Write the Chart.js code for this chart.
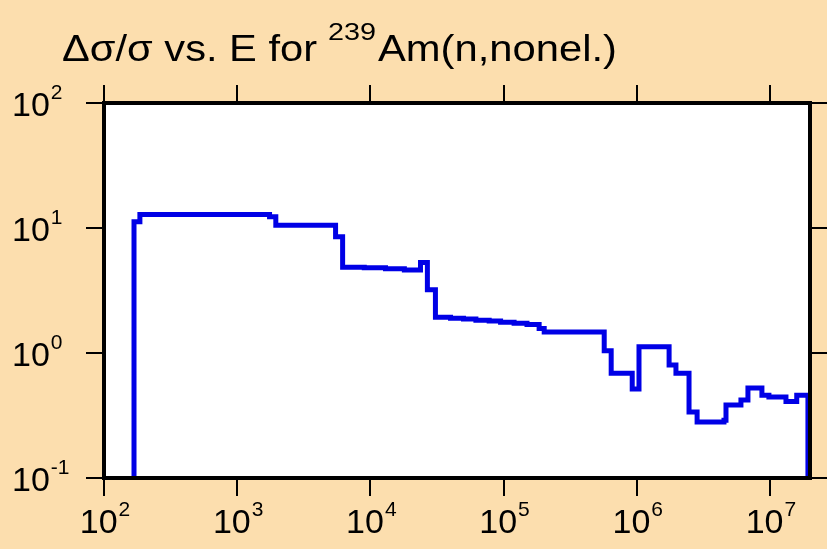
<!DOCTYPE html>
<html>
<head>
<meta charset="utf-8">
<script src="https://cdn.jsdelivr.net/npm/chart.js@4"></script>
<style>
  html, body { margin: 0; padding: 0; background: #fcdeae; }
  #wrap { width: 827px; height: 549px; }
</style>
</head>
<body>
<div id="wrap"><canvas id="uncChart" width="827" height="549"></canvas></div>
<script>
// bin edges in eV and relative uncertainty (%) per bin
const energyEdges = [168, 186, 1750, 1950, 5480, 6190, 9000, 13000, 18000, 23800, 26800,
  30800, 40000, 50000, 62000, 78000, 95000, 120000, 150000, 185000, 202000, 570000, 643000,
  925000, 1.04e6, 1.75e6, 1.97e6, 2.47e6, 2.84e6, 4.52e6, 4.68e6, 6.06e6, 6.84e6, 8.71e6,
  9.83e6, 1.32e7, 1.59e7, 1.93e7];
const relUncert = [11.2, 12.8, 12.3, 10.5, 8.5, 4.85, 4.8, 4.72, 4.62, 5.3, 3.2,
  1.93, 1.90, 1.87, 1.83, 1.80, 1.76, 1.73, 1.69, 1.57, 1.47, 1.04, 0.69,
  0.515, 1.12, 0.80, 0.69, 0.337, 0.28, 0.29, 0.384, 0.42, 0.525,
  0.46, 0.445, 0.41, 0.46];

const xTickValues = [1e2, 1e3, 1e4, 1e5, 1e6, 1e7];
const xTickExps = ['2', '3', '4', '5', '6', '7'];
const yTickValues = [0.1, 1, 10, 100];
const yTickExps = ['-1', '0', '1', '2'];

const xMin = 100, xMax = 2e7, yMin = 0.1, yMax = 100;

// step points (stepped 'before' => each point holds its value until the next one)
const pts = [{ x: energyEdges[0], y: yMin }];
for (let i = 0; i < relUncert.length; i++) {
  pts.push({ x: energyEdges[i], y: relUncert[i] });
}
const lastE = energyEdges[energyEdges.length - 1];
pts.push({ x: lastE, y: relUncert[relUncert.length - 1] });
pts.push({ x: lastE, y: yMin });

const FONT = "'Liberation Sans', Arial, Helvetica, sans-serif";

// "10" with a raised exponent; x is the left edge (align left) or the centre
function powLabel(ctx, exp, x, y, align) {
  ctx.font = '34px ' + FONT;
  const wb = ctx.measureText('10').width;
  ctx.font = '21px ' + FONT;
  const we = ctx.measureText(exp).width;
  let x0 = x;
  if (align === 'center') x0 = x - (wb + we + 1) / 2;
  ctx.textAlign = 'left';
  ctx.textBaseline = 'alphabetic';
  ctx.font = '34px ' + FONT;
  ctx.fillText('10', x0, y);
  ctx.font = '21px ' + FONT;
  ctx.fillText(exp, x0 + wb + 1, y - 17);
}

// text squeezed/stretched to a given width
function fitText(ctx, txt, x, y, font, w) {
  ctx.font = font;
  const m = ctx.measureText(txt).width;
  ctx.save();
  ctx.translate(x, y);
  ctx.scale(w / m, 1);
  ctx.textAlign = 'left';
  ctx.fillText(txt, 0, 0);
  ctx.restore();
}

const framePlugin = {
  id: 'framePlugin',
  beforeDraw(chart) {
    const ctx = chart.ctx;
    const a = chart.chartArea;
    ctx.save();
    ctx.fillStyle = '#fcdeae';
    ctx.fillRect(0, 0, chart.width, chart.height);
    ctx.fillStyle = '#ffffff';
    ctx.fillRect(a.left, a.top, a.right - a.left, a.bottom - a.top);
    ctx.restore();
  },
  afterDraw(chart) {
    const ctx = chart.ctx;
    const a = chart.chartArea;
    const sx = chart.scales.x, sy = chart.scales.y;
    ctx.save();
    ctx.strokeStyle = '#000';
    ctx.fillStyle = '#000';
    // frame
    ctx.lineWidth = 4;
    ctx.strokeRect(a.left, a.top, a.right - a.left, a.bottom - a.top);
    // ticks outside the frame
    ctx.lineWidth = 2;
    const tl = 18;
    ctx.beginPath();
    xTickValues.forEach(v => {
      const px = Math.round(sx.getPixelForValue(v));
      ctx.moveTo(px, a.bottom); ctx.lineTo(px, a.bottom + tl);
      ctx.moveTo(px, a.top); ctx.lineTo(px, a.top - tl);
    });
    yTickValues.forEach(v => {
      const py = Math.round(sy.getPixelForValue(v));
      ctx.moveTo(a.left, py); ctx.lineTo(a.left - tl, py);
      ctx.moveTo(a.right, py); ctx.lineTo(a.right + tl, py);
    });
    ctx.stroke();
    // tick labels
    xTickValues.forEach((v, i) => {
      powLabel(ctx, xTickExps[i], sx.getPixelForValue(v) + 1, a.bottom + 55, 'center');
    });
    yTickValues.forEach((v, i) => {
      powLabel(ctx, yTickExps[i], 12, sy.getPixelForValue(v) + 13, 'left');
    });
    // title
    fitText(ctx, '\u0394\u03c3/\u03c3 vs. E for', 62, 61, '36px ' + FONT, 255);
    fitText(ctx, '239', 328, 40, '23px ' + FONT, 48);
    fitText(ctx, 'Am(n,nonel.)', 378, 61, '36px ' + FONT, 239);
    ctx.restore();
  }
};

new Chart(document.getElementById('uncChart'), {
  type: 'scatter',
  data: {
    datasets: [{
      data: pts,
      showLine: true,
      stepped: true,
      borderColor: '#0000e6',
      borderWidth: 5,
      pointRadius: 0,
      fill: false
    }]
  },
  options: {
    responsive: false,
    animation: false,
    layout: { padding: { top: 103, right: 17, left: 0, bottom: 0 } },
    plugins: { legend: { display: false }, tooltip: { enabled: false } },
    scales: {
      x: {
        type: 'logarithmic', min: xMin, max: xMax,
        grid: { display: false }, border: { display: false },
        ticks: { display: false },
        afterFit(s) { s.height = 71; }
      },
      y: {
        type: 'logarithmic', min: yMin, max: yMax,
        grid: { display: false }, border: { display: false },
        ticks: { display: false },
        afterFit(s) { s.width = 104; }
      }
    }
  },
  plugins: [framePlugin]
});
</script>
</body>
</html>
